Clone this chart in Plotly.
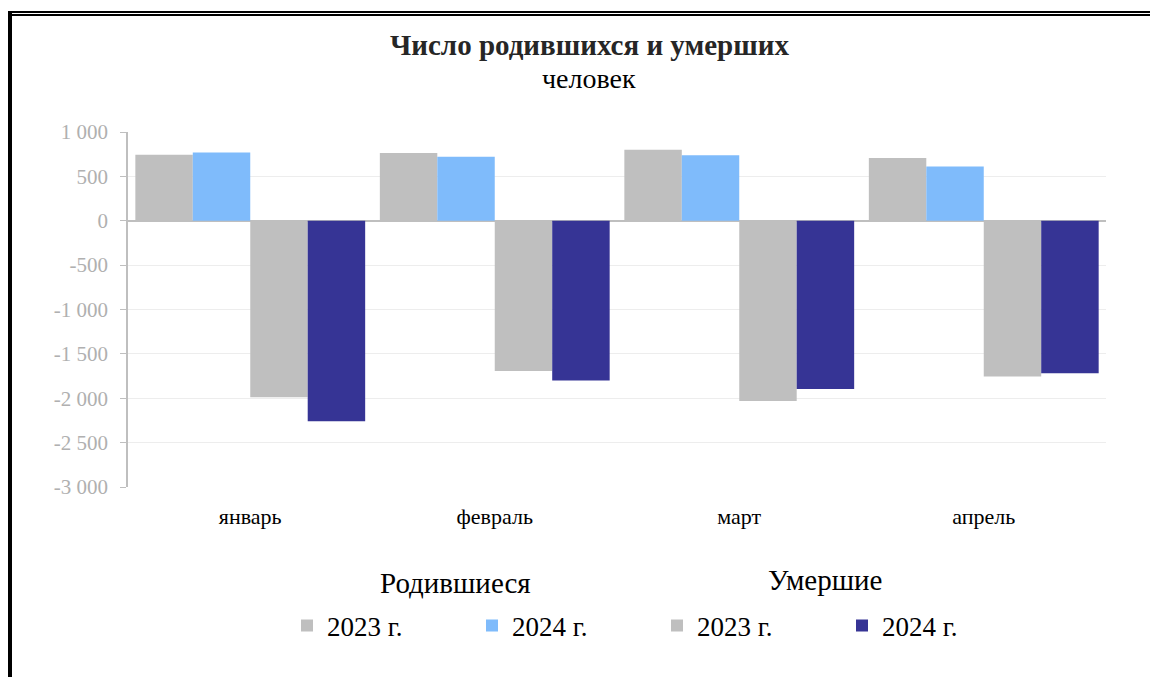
import plotly.graph_objects as go

months = ["январь", "февраль", "март", "апрель"]
births_2023 = [744, 763, 801, 707]
births_2024 = [770, 722, 737, 612]
deaths_2023 = [-1988, -1692, -2030, -1756]
deaths_2024 = [-2259, -1801, -1895, -1718]
y_tickvals = [1000, 500, 0, -500, -1000, -1500, -2000, -2500, -3000]
y_ticktext = ["1 000", "500", "0", "-500", "-1 000", "-1 500", "-2 000", "-2 500", "-3 000"]

SERIF = "Liberation Serif, Times New Roman, serif"
GRAY = "#BFBFBF"
LBLUE = "#7FBBFB"
NAVY = "#363495"

fig = go.Figure()
fig.add_trace(go.Bar(x=months, y=births_2023, name="2023 г.", marker=dict(color=GRAY, line=dict(width=0)),
                     legend="legend"))
fig.add_trace(go.Bar(x=months, y=births_2024, name="2024 г.", marker=dict(color=LBLUE, line=dict(width=0)),
                     legend="legend"))
fig.add_trace(go.Bar(x=months, y=deaths_2023, name="2023 г.", marker=dict(color=GRAY, line=dict(width=0)),
                     legend="legend2"))
fig.add_trace(go.Bar(x=months, y=deaths_2024, name="2024 г.", marker=dict(color=NAVY, line=dict(width=0)),
                     legend="legend2"))

# the page body adds an 8px offset; geometry below is given in page pixels
OFF = 8
PAGE_W, PAGE_H = 1158, 677
W, H = PAGE_W - OFF, PAGE_H - OFF
PL, PR, PT, PB = 128, 1106, 132, 487  # plot area in page pixels
L, R, T, B = PL - OFF, W - (PR - OFF), PT - OFF, H - (PB - OFF)
pw, ph = W - L - R, H - T - B

def px(x):
    return (x - OFF - L) / pw

def py(y):
    return (H - B - (y - OFF)) / ph

legend_common = dict(
    orientation="h",
    font=dict(family=SERIF, size=27, color="#000000"),
    bgcolor="rgba(0,0,0,0)",
    entrywidth=140,
    entrywidthmode="pixels",
    yanchor="middle",
    xanchor="left",
    traceorder="normal",
    itemclick=False,
    itemdoubleclick=False,
)

fig.update_layout(
    width=W, height=H,
    margin=dict(l=L, r=R, t=T, b=B),
    paper_bgcolor="white",
    plot_bgcolor="white",
    barmode="group",
    bargap=0.06,
    bargroupgap=0,
    showlegend=True,
    legend=dict(**legend_common, x=px(287), y=py(626)),
    legend2=dict(**legend_common, x=px(657), y=py(626)),
    xaxis=dict(
        showgrid=False,
        showline=False,
        ticks="",
        tickfont=dict(family=SERIF, size=22, color="#000000"),
        ticklabelstandoff=14,
    ),
    yaxis=dict(
        range=[-3000, 1000],
        tickvals=y_tickvals,
        ticktext=y_ticktext,
        showgrid=True,
        gridcolor="#EDEDED",
        gridwidth=1,
        zeroline=True,
        zerolinecolor="#BFBFBF",
        zerolinewidth=1.5,
        showline=True,
        linecolor="#BFBFBF",
        linewidth=1.5,
        ticks="outside",
        ticklen=6,
        tickcolor="#BFBFBF",
        ticklabelstandoff=8,
        tickfont=dict(family=SERIF, size=21, color="#B0B0B0"),
    ),
    annotations=[
        dict(text="<b>Число родившихся и умерших</b>", xref="paper", yref="paper",
             x=px(589), y=py(45), xanchor="center", yanchor="middle", showarrow=False,
             font=dict(family=SERIF, size=29, color="#262626")),
        dict(text="человек", xref="paper", yref="paper",
             x=px(589), y=py(78), xanchor="center", yanchor="middle", showarrow=False,
             font=dict(family=SERIF, size=28, color="#000000")),
        dict(text="Родившиеся", xref="paper", yref="paper",
             x=px(455), y=py(583), xanchor="center", yanchor="middle", showarrow=False,
             font=dict(family=SERIF, size=29, color="#000000")),
        dict(text="Умершие", xref="paper", yref="paper",
             x=px(825), y=py(580), xanchor="center", yanchor="middle", showarrow=False,
             font=dict(family=SERIF, size=29, color="#000000")),
    ],
    shapes=[
        dict(type="line", xref="paper", yref="paper", x0=px(8), x1=px(PAGE_W + 5), y0=py(12), y1=py(12),
             line=dict(color="black", width=2)),
        dict(type="line", xref="paper", yref="paper", x0=px(10), x1=px(PAGE_W + 5), y0=py(15), y1=py(15),
             line=dict(color="black", width=2)),
        dict(type="line", xref="paper", yref="paper", x0=px(10), x1=px(10), y0=py(11), y1=py(PAGE_H + 5),
             line=dict(color="black", width=4)),
    ],
)

fig.write_html("out.html")
